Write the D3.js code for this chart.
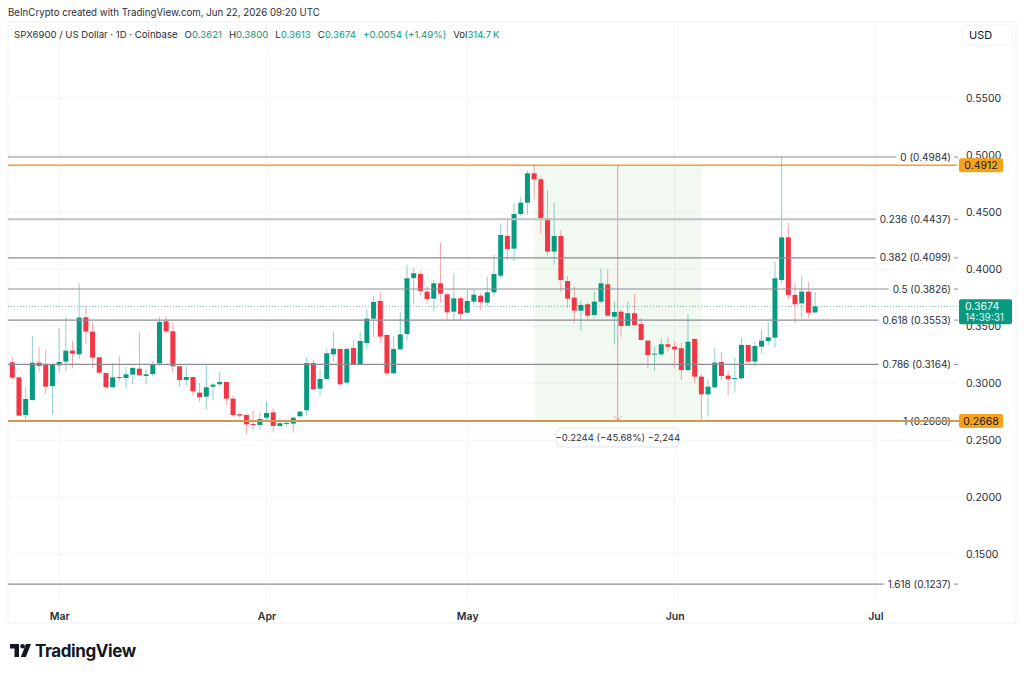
<!DOCTYPE html>
<html>
<head>
<meta charset="utf-8">
<script src="https://cdn.jsdelivr.net/npm/d3@7"></script>
<style>
  body { margin: 0; background: #fff; }
  svg { display: block; font-family: Inter, "Noto Sans", sans-serif; }
</style>
</head>
<body>
<script>
// daily candles, SPX6900/USD, first one on Feb 22 2026
const startDay = '2026-02-22'
const opens = [
  .3183,.3051,.2721,.2852,.3180,.3159,.2975,.3156,.3189,.3285,.3253,.3578,.3452,.3227,.3089,.2964,.3054,.3045,.3075,.3127,
  .3063,.3080,.3174,.3543,.3455,.3148,.3028,.3054,.2917,.2882,.2969,.2990,.3010,.2864,.2727,.2721,.2642,.2633,.2697,.2744,
  .2624,.2648,.2645,.2709,.2762,.3177,.2952,.3037,.3253,.3300,.3005,.3308,.3165,.3352,.3566,.3721,.3423,.3086,.3297,.3431,
  .3923,.3958,.3803,.3741,.3876,.3779,.3627,.3744,.3618,.3715,.3767,.3706,.3797,.3943,.4291,.4180,.4484,.4583,.4841,.4788,
  .4446,.4154,.4291,.3896,.3750,.3636,.3692,.3598,.3715,.3867,.3583,.3627,.3504,.3613,.3519,.3373,.3253,.3253,.3341,.3320,
  .3306,.3115,.3388,.3057,.2902,.2963,.3186,.3066,.3040,.3043,.3335,.3189,.3320,.3370,.3399,.3905,.4279,.3774,.3700,.3803,
  .3621
]
const highs = [
  .3227,.3057,.2964,.3414,.3317,.3291,.3174,.3478,.3578,.3373,.3876,.3680,.3537,.3227,.3092,.3174,.3238,.3145,.3145,.3449,
  .3127,.3194,.3578,.3589,.3534,.3148,.3151,.3054,.2999,.3159,.2999,.3101,.3010,.2893,.2736,.2727,.2759,.2741,.2838,.2779,
  .2692,.2677,.2706,.2756,.3224,.3203,.3116,.3300,.3458,.3300,.3311,.3379,.3452,.3648,.3765,.3800,.3423,.3414,.3627,.4037,
  .4016,.3987,.3847,.3905,.4230,.3797,.3964,.3759,.3817,.3826,.3788,.3934,.4124,.4402,.4446,.4578,.4636,.4864,.4912,.4811,
  .4694,.4583,.4344,.3940,.3847,.3724,.3706,.3803,.4007,.4002,.3715,.3642,.3715,.3782,.3569,.3373,.3320,.3393,.3402,.3364,
  .3355,.3607,.3393,.3080,.3028,.3306,.3268,.3110,.3227,.3393,.3335,.3364,.3466,.3534,.4066,.4984,.4408,.3876,.3943,.3890,
  .3800
]
const lows = [
  .3028,.2706,.2671,.2846,.3101,.2905,.2724,.3092,.3101,.3130,.3212,.3344,.3130,.3080,.2940,.2964,.3013,.2952,.2990,.3063,
  .2990,.3063,.3154,.3437,.3095,.2969,.2981,.2890,.2835,.2771,.2852,.2969,.2806,.2706,.2692,.2554,.2589,.2589,.2662,.2566,
  .2618,.2619,.2566,.2709,.2715,.2940,.2888,.3031,.3189,.2975,.2984,.3159,.3159,.3300,.3408,.3350,.3063,.3080,.3291,.3373,
  .3695,.3773,.3695,.3633,.3706,.3548,.3554,.3554,.3612,.3686,.3642,.3671,.3759,.3920,.4080,.4072,.4461,.4475,.4613,.4314,
  .4116,.4037,.3803,.3657,.3525,.3461,.3560,.3575,.3700,.3583,.3341,.3408,.3504,.3504,.3373,.3130,.3110,.3233,.3277,.3130,
  .3028,.3101,.2999,.2668,.2706,.2955,.3028,.2890,.2920,.3028,.3174,.3145,.3262,.3335,.3314,.3867,.3730,.3525,.3569,.3569,
  .3613
]
const closes = [
  .3048,.2715,.2861,.3180,.3151,.2969,.3159,.3186,.3285,.3259,.3575,.3452,.3224,.3092,.2964,.3051,.3045,.3077,.3133,.3069,
  .3077,.3162,.3537,.3455,.3148,.3028,.3054,.2928,.2876,.2964,.2987,.3010,.2864,.2721,.2715,.2639,.2633,.2686,.2738,.2624,
  .2648,.2651,.2697,.2750,.3177,.2946,.3037,.3262,.3303,.2990,.3300,.3165,.3370,.3566,.3712,.3408,.3086,.3300,.3428,.3920,
  .3964,.3809,.3738,.3876,.3785,.3621,.3744,.3607,.3721,.3776,.3709,.3797,.3958,.4300,.4177,.4484,.4583,.4841,.4788,.4446,
  .4154,.4291,.3905,.3741,.3636,.3686,.3592,.3715,.3876,.3592,.3624,.3502,.3613,.3510,.3379,.3247,.3259,.3341,.3320,.3297,
  .3115,.3364,.3057,.2902,.2969,.3180,.3063,.3037,.3045,.3335,.3189,.3326,.3373,.3402,.3920,.4279,.3774,.3692,.3803,.3618,
  .3674
]

const priceTicks = [0.55, 0.50, 0.45, 0.40, 0.35, 0.30, 0.25, 0.20, 0.15]
const fibLevels = ['0', '0.236', '0.382', '0.5', '0.618', '0.786', '1', '1.618']
const fibPrices = [0.4984, 0.4437, 0.4099, 0.3826, 0.3553, 0.3164, 0.2668, 0.1237]
const measureFrom = 78   // index of the top candle
const measureTo = 103    // index of the low candle
const measureTop = 0.4912
const measureBottom = 0.2668
const lastPrice = 0.3674

let width = 1024, height = 674
let plot = { left: 8, right: 957, top: 22, bottom: 603 }
let green = '#089981', red = '#f23645'

let svg = d3.select('body').append('svg')
  .attr('width', width)
  .attr('height', height)
  .style('background', '#fff')

let parse = d3.utcParse('%Y-%m-%d')
let dates = opens.map((d, i) => d3.utcDay.offset(parse(startDay), i))

let x = d3.scaleUtc()
  .domain([dates[0], dates[dates.length - 1]])
  .range([12.3, 12.3 + (dates.length - 1) * 6.69])

let y = d3.scaleLinear()
  .domain([fibPrices[0], fibPrices[6]])
  .range([157, 421])

// frame
svg.append('rect')
  .attr('x', plot.left).attr('y', plot.top)
  .attr('width', 1016 - plot.left).attr('height', 623 - plot.top)
  .attr('fill', 'none').attr('stroke', '#eef0f3')

svg.append('clipPath').attr('id', 'clip')
  .append('rect')
  .attr('x', plot.left).attr('y', plot.top)
  .attr('width', plot.right - plot.left).attr('height', plot.bottom - plot.top)

let months = d3.utcMonth.range(parse('2026-03-01'), parse('2026-07-02'))

// grid
let grid = svg.append('g').attr('clip-path', 'url(#clip)')
grid.selectAll('.hg').data(priceTicks).join('line')
  .attr('x1', plot.left).attr('x2', plot.right)
  .attr('y1', d => y(d)).attr('y2', d => y(d))
  .attr('stroke', '#f3f4f6')
grid.selectAll('.vg').data(months).join('line')
  .attr('x1', d => x(d)).attr('x2', d => x(d))
  .attr('y1', plot.top).attr('y2', plot.bottom)
  .attr('stroke', '#f3f4f6')

let chart = svg.append('g').attr('clip-path', 'url(#clip)')

// measure box
let mx1 = x(dates[measureFrom]), mx2 = x(dates[measureTo])
chart.append('rect')
  .attr('x', mx1).attr('y', y(measureTop))
  .attr('width', mx2 - mx1).attr('height', y(measureBottom) - y(measureTop))
  .attr('fill', 'rgba(76,175,80,0.08)')

// fib lines
let fib = svg.append('g').style('font-size', '10px')
fibLevels.forEach((lv, i) => {
  let yy = y(fibPrices[i])
  let t = fib.append('text')
    .attr('x', 951).attr('y', yy + 3.5)
    .attr('text-anchor', 'end')
    .attr('fill', '#2a2e39')
    .text(`${lv} (${fibPrices[i].toFixed(4)})`)
  let w = t.node().getComputedTextLength()
  fib.insert('line', 'text')
    .attr('x1', plot.left).attr('x2', 951 - w - 4)
    .attr('y1', yy).attr('y2', yy)
    .attr('stroke', lv === '0.236' ? '#bfc1c6' : '#8c8e94')
    .attr('stroke-width', lv === '0.236' ? 2 : 1.2)
  fib.append('line')
    .attr('x1', 954).attr('x2', 958)
    .attr('y1', yy).attr('y2', yy)
    .attr('stroke', '#8c8e94')
})

// orange horizontal lines
chart.append('line')
  .attr('x1', plot.left).attr('x2', 959)
  .attr('y1', y(measureTop)).attr('y2', y(measureTop))
  .attr('stroke', '#f7a21b').attr('stroke-width', 1.6)
svg.append('line')
  .attr('x1', plot.left).attr('x2', 959)
  .attr('y1', y(measureBottom)).attr('y2', y(measureBottom))
  .attr('stroke', '#d0984a').attr('stroke-width', 2)

// last price dotted line
chart.append('line')
  .attr('x1', plot.left).attr('x2', plot.right)
  .attr('y1', y(lastPrice)).attr('y2', y(lastPrice))
  .attr('stroke', green).attr('stroke-opacity', 0.6)
  .attr('stroke-dasharray', '1,2')

// measure arrow
let mid = (mx1 + mx2) / 2
chart.append('line')
  .attr('x1', mid).attr('x2', mid)
  .attr('y1', y(measureTop)).attr('y2', y(measureBottom))
  .attr('stroke', 'rgba(242,54,69,0.5)')
chart.append('path')
  .attr('d', `M${mid - 4},${y(measureBottom) - 5} L${mid},${y(measureBottom) - 1} L${mid + 4},${y(measureBottom) - 5}`)
  .attr('fill', 'none').attr('stroke', 'rgba(242,54,69,0.5)')

// candles
let candles = chart.selectAll('.c').data(opens).join('g')
candles.append('line')
  .attr('x1', (d, i) => x(dates[i])).attr('x2', (d, i) => x(dates[i]))
  .attr('y1', (d, i) => y(highs[i])).attr('y2', (d, i) => y(lows[i]))
  .attr('stroke', (d, i) => closes[i] >= d ? green : red)
  .attr('stroke-opacity', 0.45)
candles.append('rect')
  .attr('x', (d, i) => x(dates[i]) - 2.5)
  .attr('width', 5)
  .attr('y', (d, i) => y(Math.max(d, closes[i])))
  .attr('height', (d, i) => Math.max(1, Math.abs(y(d) - y(closes[i]))))
  .attr('fill', (d, i) => closes[i] >= d ? green : red)

// measure label
let lab = svg.append('g')
lab.append('rect')
  .attr('x', mid - 61).attr('y', 428).attr('width', 122).attr('height', 19)
  .attr('rx', 4).attr('fill', '#fff').attr('stroke', '#e3e5ea')
lab.append('text')
  .attr('x', mid).attr('y', 441).attr('text-anchor', 'middle')
  .style('font-size', '9.5px').attr('fill', '#2a2e39')
  .text('\u22120.2244 (\u221245.68%) \u22122,244')

// price axis
let yaxis = svg.append('g')
  .attr('transform', `translate(963,0)`)
  .call(d3.axisRight(y).tickValues(priceTicks).tickFormat(d3.format('.4f')).tickSize(0))
yaxis.select('.domain').remove()
yaxis.selectAll('text').attr('x', 3).attr('fill', '#2a2e39').style('font-size', '10.5px').style('font-family', 'Inter, sans-serif')

// time axis
let xaxis = svg.append('g')
  .attr('transform', `translate(0,${plot.bottom})`)
  .call(d3.axisBottom(x).tickValues(months).tickFormat(d3.utcFormat('%b')).tickSize(0))
xaxis.select('.domain').remove()
xaxis.selectAll('text').attr('y', 10).attr('fill', '#2a2e39')
  .style('font-size', '10.5px').style('font-weight', '600').style('font-family', 'Inter, sans-serif')

// price tags
function tag(p, fill, txt, col) {
  svg.append('rect')
    .attr('x', 959).attr('y', y(p) - 7).attr('width', 44).attr('height', 14)
    .attr('rx', 2).attr('fill', fill)
  svg.append('text')
    .attr('x', 981).attr('y', y(p) + 4).attr('text-anchor', 'middle')
    .style('font-size', '10.5px').attr('fill', col).text(txt)
}
tag(measureTop, '#f7a21b', measureTop.toFixed(4), '#131722')
tag(measureBottom, '#f7a21b', measureBottom.toFixed(4), '#131722')

svg.append('rect')
  .attr('x', 959).attr('y', y(lastPrice) - 7).attr('width', 53).attr('height', 25)
  .attr('rx', 2).attr('fill', green)
svg.append('text')
  .attr('x', 965).attr('y', y(lastPrice) + 4)
  .style('font-size', '10.5px').attr('fill', '#fff').text(lastPrice.toFixed(4))
svg.append('text')
  .attr('x', 965).attr('y', y(lastPrice) + 15)
  .style('font-size', '10px').attr('fill', '#dff3ee').text('14:39:31')

// USD box
svg.append('rect')
  .attr('x', 962).attr('y', 25).attr('width', 51).attr('height', 20)
  .attr('rx', 4).attr('fill', '#fff').attr('stroke', '#eef0f3')
svg.append('text')
  .attr('x', 969).attr('y', 39)
  .style('font-size', '11px').attr('fill', '#131722').text('USD')

// header
svg.append('text')
  .attr('x', 8).attr('y', 16)
  .style('font-size', '9.7px').attr('fill', '#2a2e39')
  .text('BeInCrypto created with TradingView.com, Jun 22, 2026 09:20 UTC')

let legend = svg.append('text')
  .attr('x', 14).attr('y', 38)
  .style('font-size', '9.6px').attr('fill', '#2a2e39')
legend.append('tspan').text('SPX6900 / US Dollar \u00b7 1D \u00b7 Coinbase')
let last = opens.length - 1
let legendItems = [
  ['O', opens[last].toFixed(4)], ['H', highs[last].toFixed(4)],
  ['L', lows[last].toFixed(4)], ['C', closes[last].toFixed(4)],
  ['', '+0.0054 (+1.49%)'], ['Vol', '314.7\u2009K']
]
legendItems.forEach(([k, v]) => {
  if (k) legend.append('tspan').attr('dx', 7).text(k)
  legend.append('tspan').attr('dx', k ? 0 : 7).attr('fill', green).text(v)
})

// logo
let logo = svg.append('g').attr('fill', '#131722')
logo.append('path').attr('d', 'M10,644 H19 V657 H14.5 V648.5 H10 Z')
logo.append('circle').attr('cx', 22.6).attr('cy', 646.3).attr('r', 2.3)
logo.append('path').attr('d', 'M26,644 H31 L25.8,657 H20.8 Z')
svg.append('text')
  .attr('x', 35).attr('y', 657)
  .style('font-size', '17px').style('font-weight', '700')
  .style('letter-spacing', '-0.4px')
  .attr('fill', '#131722').text('TradingView')
</script>
</body>
</html>
